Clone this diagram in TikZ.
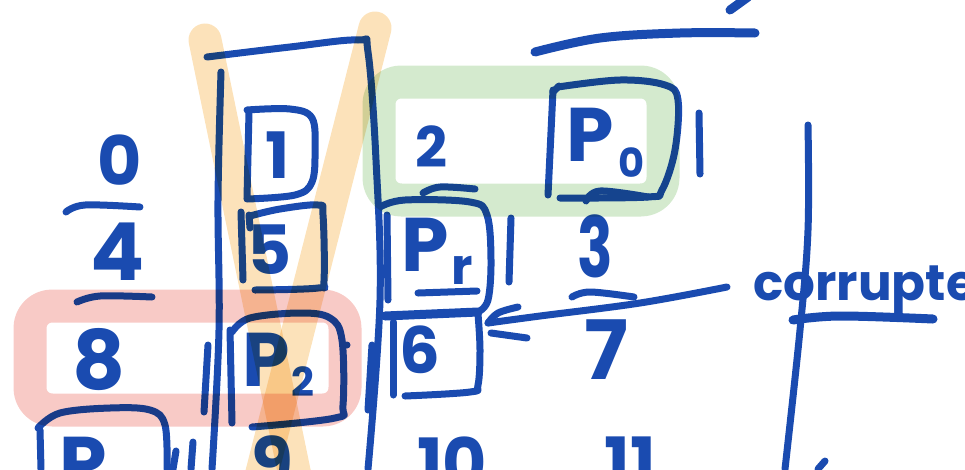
\documentclass[tikz,border=0pt]{standalone}
\usepackage{fontspec}
\setmainfont{Poppins}
\definecolor{ink}{RGB}{26,75,176}
\definecolor{hlorange}{RGB}{252,226,186}
\definecolor{hlgreen}{RGB}{212,234,206}
\definecolor{hlpink}{RGB}{248,202,198}
\tikzset{
  pen/.style={draw=ink, line width=7pt, line cap=round, line join=round},
  heavypen/.style={pen, line width=9pt},
  glyph/.style={text=ink, inner sep=0pt, font=\fontsize{#1}{#1}\selectfont\bfseries},
  glyph/.default=66,
  subglyph/.style={text=ink, inner sep=0pt, font=\fontsize{#1}{#1}\selectfont\bfseries},
  subglyph/.default=40,
  marker/.style={line width=33pt, line cap=round, line join=round, blend mode=multiply},
}
\begin{document}
\begin{tikzpicture}[x=1pt,y=-1pt]
\useasboundingbox (0,0) rectangle (965,469);
\clip (0,0) rectangle (965,469);

% ---------- written entries ----------
\node[glyph=68] (n0) at (120,160) {0};
\node[glyph=80] (n4) at (118,252) {4};
\node[glyph=82] (n8) at (99,360) {8};
\node[glyph=64] (n1) at (278,155) {1};
\node[glyph=68] (n5) at (270,250) {5};
\node[glyph=76] (p2) at (266,360) {P};
\node[subglyph] (p2s) at (303,382) {2};
\node[glyph=56] (n2) at (431,147) {2};
\node[glyph=76] (p0) at (590,135) {P};
\node[subglyph] (p0s) at (632,163) {0};
\node[glyph=76] (pr) at (425,245) {P};
\node[subglyph=50] (prs) at (462,270) {r};
\node[glyph=84] (n3) at (595,246) {\scalebox{0.7}[1]{3}};
\node[glyph=82] (n7) at (606,350) {7};
\node[glyph=64] (n6) at (420,350) {6};
\node[glyph=76] (p1) at (83,464) {P};
\node[glyph=68] (n9) at (272,461) {9};
\node[glyph=68] (n10) at (452,462) {10};
\node[glyph=68] (n11) at (630,462) {11};
\node[text=ink, anchor=base west, inner sep=0pt,
      font=\fontsize{50}{50}\selectfont\bfseries] (cor) at (753,300) {corrupted};

% ---------- column frame ----------
\draw[pen] plot[smooth, tension=0.6] coordinates
  {(207,57) (290,47) (358,40) (368,52) (376,160) (380,300) (368,469)};
\draw[pen] plot[smooth, tension=0.6] coordinates {(221,72) (218,200) (219,330) (212,469)};
\draw[pen] (208,345) -- (204,412);
\draw[pen] (193,442) -- (191,469);
\draw[pen] (176,451) -- (173,469);
\draw[pen] (372,345) -- (368,410);
\draw[pen] (387,215) -- (388,300);

% ---------- boxes round single entries ----------
% box of 1
\draw[pen] (249,112) -- (247,198);
\draw[pen] plot[smooth, tension=0.6] coordinates
  {(247,110) (290,109) (312,118) (315,150) (312,182) (295,195) (247,199)};
% box of 5
\draw[pen] (241,212) -- (243,280);
\draw[pen] (249,215) -- (250,228);
\draw[pen] plot[smooth, tension=0.6] coordinates
  {(250,216) (280,209) (318,205) (323,215) (324,280) (318,288) (255,290)};
% box of P2
\draw[pen] (230,330) -- (232,423);
\draw[pen] plot[smooth, tension=0.6] coordinates
  {(232,332) (250,318) (300,313) (330,318) (342,340) (343,405) (335,418) (252,427)};
\fill[ink] (347,345) circle (3.5pt);
% box of 6
\draw[heavypen] (385,316) -- (478,312);
\draw[pen] (393,322) -- (393,395);
\draw[pen] plot[smooth, tension=0.6] coordinates
  {(478,314) (480,350) (478,385) (470,392) (405,396)};
% box of Pr
\draw[pen] plot[smooth, tension=0.6] coordinates
  {(380,207) (405,200) (470,202) (487,215) (491,260) (488,300) (478,312)};
\draw[pen] plot[smooth, tension=0.6] coordinates {(423,193) (440,187) (475,189)};
\draw[pen] (418,293) -- (477,291);
\draw[pen] (511,218) -- (509,282);
% box of P0
\draw[pen] (553,90) -- (548,195);
\draw[pen] (553,92) -- (559,86);
\draw[pen] plot[smooth, tension=0.6] coordinates
  {(558,87) (620,80) (665,85) (678,100) (675,150) (662,190) (648,197) (560,198)};
\draw[pen] plot[smooth, tension=0.6] coordinates {(586,201) (600,191) (648,197)};
\draw[pen] (699,113) -- (700,174);
% box of bottom P
\draw[pen] plot[smooth, tension=0.6] coordinates
  {(38,428) (60,413) (110,408) (150,410) (165,425) (167,469)};
\draw[pen] (40,430) -- (41,469);

% ---------- fraction bars ----------
\draw[pen] plot[smooth, tension=0.6] coordinates {(66,212) (85,205) (140,207)};
\draw[pen] plot[smooth, tension=0.6] coordinates {(77,302) (100,296) (152,297)};
\draw[pen] plot[smooth, tension=0.6] coordinates {(572,297) (590,292) (634,297)};

% ---------- top stroke and right divider ----------
\draw[heavypen] plot[smooth, tension=0.6] coordinates {(535,52) (600,38) (680,33) (755,33)};
\draw[heavypen] (730,10) -- (748,-3);
\draw[pen] plot[smooth, tension=0.6] coordinates {(808,125) (808,230) (800,330) (785,469)};
\draw[pen] (825,461) -- (818,469);

% ---------- label pointing at the corrupted cell ----------
\coordinate (tail) at ([xshift=-26pt,yshift=13pt]cor.base west);
\coordinate (tip) at (488,323);
\draw[pen] plot[smooth, tension=0.6] coordinates {(tail) (640,303) (540,316) (tip)};
\draw[pen] plot[smooth, tension=0.6] coordinates {(518,307) (498,313) (tip)};
\draw[pen] (491,333) -- (527,338);
\draw[heavypen] plot[smooth, tension=0.6] coordinates {(793,320) (840,316) (933,319)};

% ---------- highlighter marks ----------
\draw[marker, hlgreen, rounded corners=22pt] (379,82) rectangle (663,200);
\draw[marker, hlpink, rounded corners=22pt] (30,306) rectangle (345,410);
\draw[marker, hlorange] (205,40) -- (300,500);
\draw[marker, hlorange] (375,28) -- (255,500);
\end{tikzpicture}
\end{document}
